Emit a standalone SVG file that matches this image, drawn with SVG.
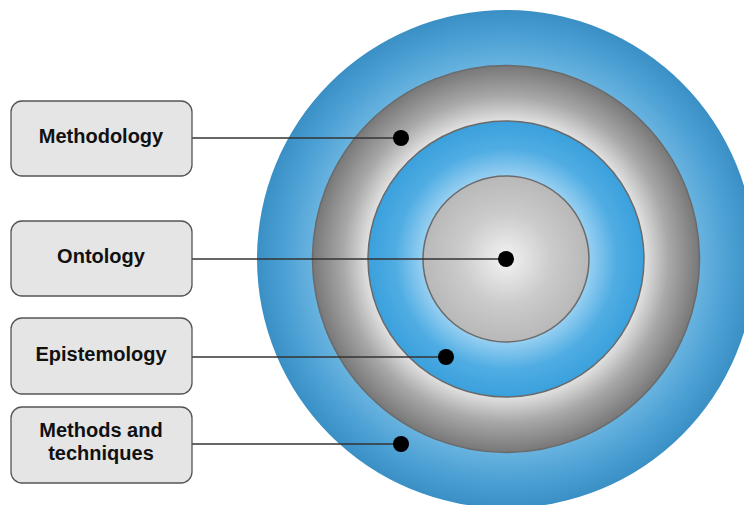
<svg xmlns="http://www.w3.org/2000/svg" width="744" height="505" viewBox="0 0 744 505">
<style>
.box{fill:#e5e5e5;stroke:#555;stroke-width:1.3}
.lbl{font-family:"Liberation Sans",Arial,sans-serif;font-weight:bold;font-size:20px;fill:#111;text-anchor:middle}
.conn{stroke:#333;stroke-width:1.3;fill:none}
.dot{fill:#000}
.ring{stroke:#6a6a6a;stroke-width:1.5}
</style>
<defs>
<radialGradient id="gOuter" cx="506" cy="259" r="249" gradientUnits="userSpaceOnUse">
<stop offset="0.77" stop-color="#6ab4e0"/>
<stop offset="0.9" stop-color="#4a9fd3"/>
<stop offset="1" stop-color="#3a8fc5"/>
</radialGradient>
<radialGradient id="gGray" cx="506" cy="259" r="194" gradientUnits="userSpaceOnUse">
<stop offset="0.71" stop-color="#e2e2e2"/>
<stop offset="0.84" stop-color="#a8a8a8"/>
<stop offset="1" stop-color="#777777"/>
</radialGradient>
<radialGradient id="gBlue" cx="506" cy="259" r="138" gradientUnits="userSpaceOnUse">
<stop offset="0.6" stop-color="#98d0f2"/>
<stop offset="0.8" stop-color="#50ade3"/>
<stop offset="1" stop-color="#3aa0dc"/>
</radialGradient>
<radialGradient id="gCore" cx="506" cy="259" r="83" gradientUnits="userSpaceOnUse">
<stop offset="0" stop-color="#f3f3f3"/>
<stop offset="0.55" stop-color="#cbcbcb"/>
<stop offset="1" stop-color="#b8b8b8"/>
</radialGradient>
</defs>
<g id="target">
<circle cx="506" cy="259" r="249" fill="url(#gOuter)"/>
<circle class="ring" cx="506" cy="259" r="193.5" fill="url(#gGray)"/>
<circle class="ring" cx="506" cy="259" r="138" fill="url(#gBlue)"/>
<circle class="ring" cx="506" cy="259" r="83" fill="url(#gCore)"/>
</g>
<g id="connectors">
<line class="conn" x1="192" y1="138" x2="401" y2="138"/>
<line class="conn" x1="192" y1="259" x2="506" y2="259"/>
<line class="conn" x1="192" y1="357" x2="446" y2="357"/>
<line class="conn" x1="192" y1="444" x2="401" y2="444"/>
<circle class="dot" cx="401" cy="138" r="8"/>
<circle class="dot" cx="506" cy="259" r="8"/>
<circle class="dot" cx="446" cy="357" r="8"/>
<circle class="dot" cx="401" cy="444" r="8"/>
</g>
<g id="node-methodology">
<rect class="box" x="11" y="101" width="181" height="75" rx="11"/>
<text class="lbl" x="101" y="143">Methodology</text>
</g>
<g id="node-ontology">
<rect class="box" x="11" y="221" width="181" height="75" rx="11"/>
<text class="lbl" x="101" y="263">Ontology</text>
</g>
<g id="node-epistemology">
<rect class="box" x="11" y="318" width="181" height="76" rx="11"/>
<text class="lbl" x="101" y="361">Epistemology</text>
</g>
<g id="node-methods">
<rect class="box" x="11" y="407" width="181" height="76" rx="11"/>
<text class="lbl" x="101" y="437">Methods and</text>
<text class="lbl" x="101" y="460">techniques</text>
</g>
</svg>
